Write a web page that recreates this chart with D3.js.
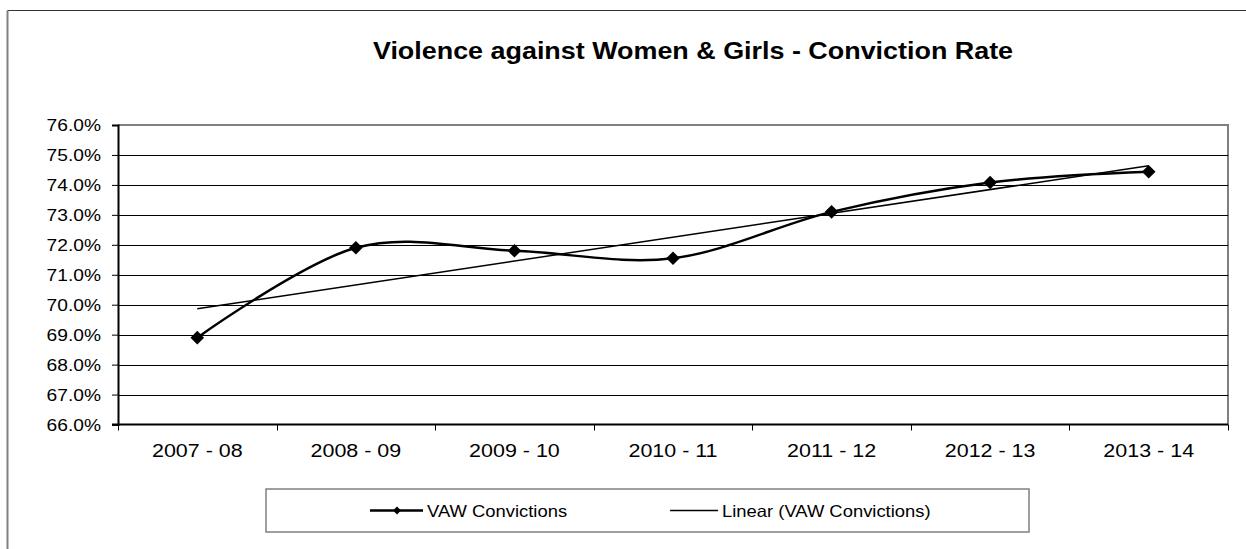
<!DOCTYPE html>
<html>
<head>
<meta charset="utf-8">
<script src="https://cdn.jsdelivr.net/npm/d3@7"></script>
<style>
  body { margin: 0; background: #fff; }
  text { font-family: "Liberation Sans", Arial, sans-serif; fill: #000; }
</style>
</head>
<body>
<svg id="chart"></svg>
<script>
// Chart data
var years = ["2007 - 08", "2008 - 09", "2009 - 10", "2010 - 11", "2011 - 12", "2012 - 13", "2013 - 14"];
var convictionRate = [68.9, 71.9, 71.8, 71.55, 73.1, 74.08, 74.44];
var yTicks = [66, 67, 68, 69, 70, 71, 72, 73, 74, 75, 76];
var seriesName = "VAW Convictions";
var trendName = "Linear (VAW Convictions)";
var title = "Violence against Women & Girls - Conviction Rate";

var W = 1246, H = 549;
var plot = { left: 118, right: 1228, top: 125, bottom: 424.5 };
var sx = 1.13; // text in the picture is slightly wider than normal

var svg = d3.select("#chart")
  .attr("width", W)
  .attr("height", H);

// stretched text helper
function label(g, x, y, str, size, anchor, weight, stretch) {
  return g.append("text")
    .attr("transform", "translate(" + x + "," + y + ") scale(" + (stretch || sx) + ",1)")
    .attr("text-anchor", anchor || "start")
    .style("font-size", size + "px")
    .style("font-weight", weight || "normal")
    .text(str);
}

// outer chart border (runs off the page right and bottom)
svg.append("line").attr("x1", 7.5).attr("x2", W).attr("y1", 10.5).attr("y2", 10.5)
  .attr("stroke", "#333").attr("stroke-width", 1);
svg.append("line").attr("x1", 7.5).attr("x2", 7.5).attr("y1", 10.5).attr("y2", H)
  .attr("stroke", "#808080").attr("stroke-width", 2);

label(svg, 693, 59, title, 23.5, "middle", "bold", 1.145);

// scales
var x = d3.scaleBand().domain(years).range([plot.left, plot.right]);
var y = d3.scaleLinear().domain([66, 76]).range([plot.bottom, plot.top]);
var cx = function(d) { return x(d) + x.bandwidth() / 2; };

// plot area frame (top and right in grey)
svg.append("path")
  .attr("d", "M" + plot.left + "," + plot.top + "H" + plot.right + "V" + plot.bottom)
  .attr("fill", "none").attr("stroke", "#808080").attr("stroke-width", 2);

// gridlines
svg.append("g").selectAll("line")
  .data(yTicks.slice(1, -1))
  .enter().append("line")
  .attr("x1", plot.left).attr("x2", plot.right)
  .attr("y1", function(d) { return Math.round(y(d)) + 0.5; })
  .attr("y2", function(d) { return Math.round(y(d)) + 0.5; })
  .attr("stroke", "#000").attr("stroke-width", 1);

// y axis
var yAxis = svg.append("g")
  .attr("transform", "translate(" + plot.left + ",0)")
  .call(d3.axisLeft(y).tickValues(yTicks).tickSize(6).tickFormat(""));
yAxis.select(".domain").attr("stroke", "#000").attr("stroke-width", 2);
yAxis.selectAll(".tick line").attr("stroke", "#000");
yTicks.forEach(function(t) {
  label(svg, 101, y(t) + 6, t.toFixed(1) + "%", 17, "end");
});

// x axis with ticks on category boundaries
svg.append("line")
  .attr("x1", plot.left - 6).attr("x2", plot.right)
  .attr("y1", plot.bottom).attr("y2", plot.bottom)
  .attr("stroke", "#000").attr("stroke-width", 2);
var bounds = years.map(function(d) { return x(d); }).concat([plot.right]);
svg.append("g").selectAll("line")
  .data(bounds)
  .enter().append("line")
  .attr("x1", function(d) { return Math.round(d) + 0.5; })
  .attr("x2", function(d) { return Math.round(d) + 0.5; })
  .attr("y1", plot.bottom).attr("y2", plot.bottom + 6)
  .attr("stroke", "#000");
years.forEach(function(d) {
  label(svg, cx(d), 457, d, 19, "middle");
});

// linear trendline (least squares over category index)
var n = convictionRate.length;
var mx = d3.mean(d3.range(n)), my = d3.mean(convictionRate);
var slope = d3.sum(convictionRate, function(v, i) { return (i - mx) * (v - my); }) /
            d3.sum(d3.range(n), function(i) { return (i - mx) * (i - mx); });
var icpt = my - slope * mx;
svg.append("line")
  .attr("x1", cx(years[0])).attr("y1", y(icpt))
  .attr("x2", cx(years[n - 1])).attr("y2", y(icpt + slope * (n - 1)))
  .attr("stroke", "#000").attr("stroke-width", 1.5);

// smoothed series line
var line = d3.line()
  .x(function(d, i) { return cx(years[i]); })
  .y(function(d) { return y(d); })
  .curve(d3.curveCardinal);
svg.append("path")
  .datum(convictionRate)
  .attr("d", line)
  .attr("fill", "none").attr("stroke", "#000").attr("stroke-width", 2.5);

// diamond markers
var diamond = d3.symbol().type(d3.symbolSquare).size(92);
svg.append("g").selectAll("path")
  .data(convictionRate)
  .enter().append("path")
  .attr("d", diamond)
  .attr("transform", function(d, i) {
    return "translate(" + cx(years[i]) + "," + y(d) + ") rotate(45)";
  })
  .attr("fill", "#000");

// legend
var lg = svg.append("g");
lg.append("rect")
  .attr("x", 266).attr("y", 489).attr("width", 763).attr("height", 43)
  .attr("fill", "#fff").attr("stroke", "#808080").attr("stroke-width", 1.5);
var ly = 510.5;
lg.append("line").attr("x1", 370).attr("x2", 423).attr("y1", ly).attr("y2", ly)
  .attr("stroke", "#000").attr("stroke-width", 2.5);
lg.append("path").attr("d", d3.symbol().type(d3.symbolSquare).size(32))
  .attr("transform", "translate(397," + ly + ") rotate(45)").attr("fill", "#000");
label(lg, 427, ly + 6, seriesName, 16.3, "start");
lg.append("line").attr("x1", 670).attr("x2", 718).attr("y1", ly).attr("y2", ly)
  .attr("stroke", "#000").attr("stroke-width", 1.5);
label(lg, 722, ly + 6, trendName, 16.3, "start");
</script>
</body>
</html>
